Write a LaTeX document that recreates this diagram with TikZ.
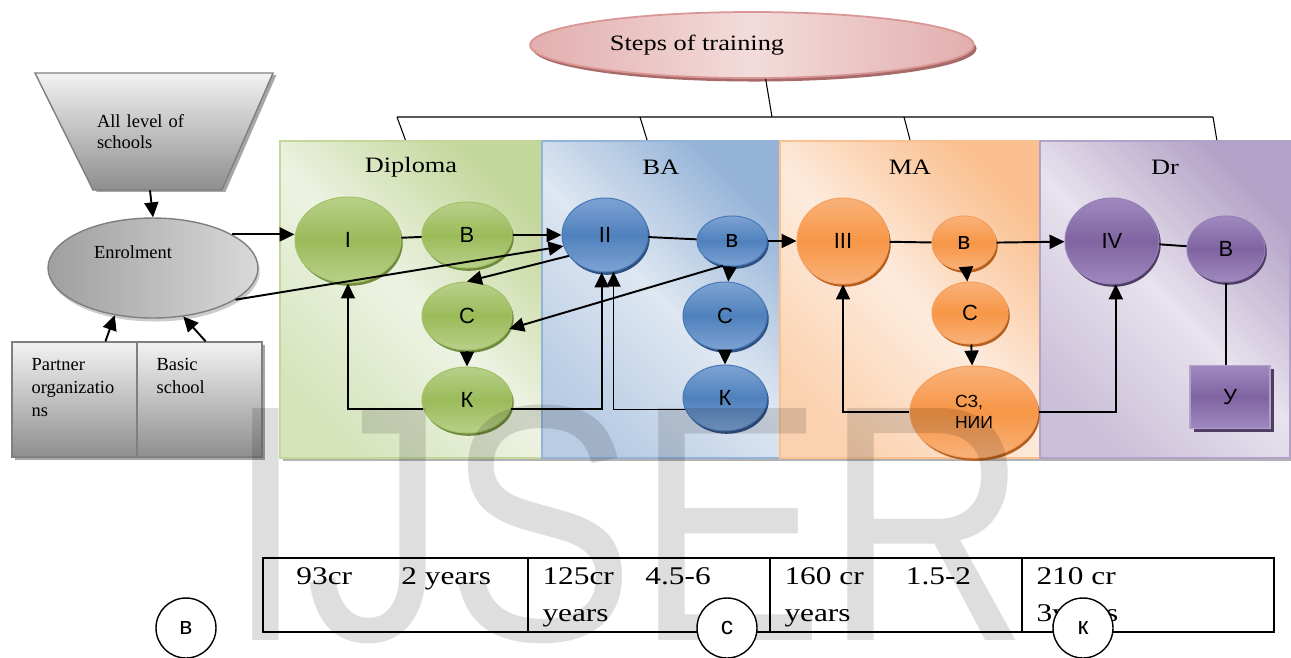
\documentclass[tikz,border=0pt]{standalone}
\usepackage{fontspec}
\usepackage{graphicx}
\setmainfont{Liberation Serif}
\setsansfont{Liberation Sans}
\newfontfamily\widefont[FakeStretch=1.2]{Liberation Serif}
\newfontfamily\tabfont[FakeStretch=1.23]{Liberation Serif}
\usetikzlibrary{arrows.meta,shapes.geometric,shadows}

\definecolor{grn}{HTML}{9BBB59}
\definecolor{grnL}{HTML}{B8D08A}
\definecolor{grnD}{HTML}{A3C16A}
\definecolor{grnS}{HTML}{6F8A3C}
\definecolor{blu}{HTML}{4F81BD}
\definecolor{bluL}{HTML}{7EA3D3}
\definecolor{bluD}{HTML}{4A7BB8}
\definecolor{bluS}{HTML}{2F5080}
\definecolor{org}{HTML}{F79646}
\definecolor{orgL}{HTML}{F9B27A}
\definecolor{orgD}{HTML}{F5A060}
\definecolor{orgS}{HTML}{B55F1E}
\definecolor{pur}{HTML}{8064A2}
\definecolor{purL}{HTML}{A089BF}
\definecolor{purD}{HTML}{9480B3}
\definecolor{purS}{HTML}{4F3D66}
\definecolor{dipT}{HTML}{C4D79B}
\definecolor{dipM}{HTML}{EDF3E3}
\definecolor{dipB}{HTML}{D6E4BC}
\definecolor{baT}{HTML}{95B3D7}
\definecolor{baM}{HTML}{DEE7F2}
\definecolor{baB}{HTML}{B8CCE4}
\definecolor{maT}{HTML}{FAC090}
\definecolor{maM}{HTML}{FDEBDD}
\definecolor{maB}{HTML}{FBD2B0}
\definecolor{drT}{HTML}{B3A2C7}
\definecolor{drM}{HTML}{E7E2ED}
\definecolor{drB}{HTML}{CBC0D9}
\definecolor{pinkL}{HTML}{F2DCDB}
\definecolor{pinkM}{HTML}{E2AEAD}
\definecolor{pinkD}{HTML}{D99694}
\definecolor{pinkS}{HTML}{A66A69}
\definecolor{grayT}{HTML}{F2F2F2}
\definecolor{grayB}{HTML}{8E8E8E}
\definecolor{grayD}{HTML}{7F7F7F}

\begin{document}
\begin{tikzpicture}[x=0.02cm, y=-0.02cm, >={Triangle[length=8.5pt,width=8pt]},
    main node/.style={ellipse, line width=0.6pt, font=\sffamily\fontsize{12.5}{14}\selectfont},
    green node/.style={main node, draw=grnD, top color=grnL, bottom color=grnL, middle color=grn,
      drop shadow={shadow xshift=1pt, shadow yshift=-1.6pt, fill=grnS, opacity=1}},
    blue node/.style={main node, draw=bluD, top color=bluL, bottom color=bluL, middle color=blu,
      drop shadow={shadow xshift=1pt, shadow yshift=-1.6pt, fill=bluS, opacity=1}},
    orange node/.style={main node, draw=orgD, top color=orgL, bottom color=orgL, middle color=org,
      drop shadow={shadow xshift=1pt, shadow yshift=-1.6pt, fill=orgS, opacity=1}},
    purple node/.style={main node, draw=purD, top color=purL, bottom color=purL, middle color=pur,
      drop shadow={shadow xshift=1pt, shadow yshift=-1.6pt, fill=purS, opacity=1}},
    small/.style={font=\sffamily\fontsize{14}{14}\selectfont},
    panel/.style={rectangle, minimum height=6.34cm, line width=1.2pt,
      drop shadow={shadow xshift=1.6pt, shadow yshift=-1.6pt, fill=black, opacity=0.3}},
    title/.style={anchor=center, yshift=-0.54cm, font=\widefont\fontsize{12.5}{15}\selectfont},
    gray box/.style={rectangle, draw=grayD, line width=0.8pt, minimum width=2.5cm, minimum height=2.3cm,
      top color=grayT, bottom color=grayB,
      drop shadow={shadow xshift=1.5pt, shadow yshift=-1.5pt, fill=gray!70, opacity=1}},
    box text/.style={anchor=north west, xshift=0.4cm, yshift=-0.34cm, align=left,
      font=\fontsize{10.5}{13}\selectfont},
    cell/.style={rectangle, draw, line width=1pt, minimum height=1.48cm},
    cell text/.style={anchor=north west, yshift=-0.2cm, align=left, font=\tabfont\fontsize{14.5}{21}\selectfont},
    ring/.style={circle, draw, fill=white, line width=0.8pt, minimum size=1.2cm, small},
    link/.style={line width=1.1pt}]
  \tikzstyle{every node}=[inner sep=0pt]

  \fill[white] (0,0) rectangle (1291,657);
  \useasboundingbox (0,0) rectangle (1291,657);

  % stages
  \node[panel, draw=dipT, top color=dipT, bottom color=dipB, middle color=dipM, shading angle=-45,
    minimum width=5.24cm, label={[title]north:Diploma}] (dip) at (411,299.5) {};
  \node[panel, draw=baT, top color=baT, bottom color=baB, middle color=baM, shading angle=-45,
    minimum width=4.76cm, label={[title]north:BA}] (ba) at (661,299.5) {};
  \node[panel, draw=maT, top color=maT, bottom color=maB, middle color=maM, shading angle=-45,
    minimum width=5.2cm, label={[title]north:MA}] (ma) at (910,299.5) {};
  \node[panel, draw=drT, top color=drT, bottom color=drB, middle color=drM, shading angle=-45,
    minimum width=5cm, label={[title]north:Dr}] (dr) at (1165,299.5) {};

  \node[main node, minimum width=8.88cm, minimum height=1.32cm, draw=pinkD, line width=1pt,
    left color=pinkM, right color=pinkM, middle color=pinkL,
    drop shadow={shadow xshift=1.5pt, shadow yshift=-2pt, fill=pinkS, opacity=1},
    label={[xshift=-1.1cm, font=\widefont\fontsize{12.5}{15}\selectfont]center:Steps of training}] (steps) at (752,45) {};

  \coordinate (t0) at (772,117);
  \coordinate (t1) at (397,117);
  \coordinate (t2) at (640,117);
  \coordinate (t3) at (904,117);
  \coordinate (t4) at (1213,117);
  \draw[line width=0.6pt] (steps.-68) -- (t0) (t1) -- (t4)
    (t1) -- (dip.92) (t2) -- (ba.95) (t3) -- (ma.north) (t4) -- (dr.72);

  % entry
  \draw[draw=grayD, line width=0.8pt, top color=grayT, bottom color=grayB,
    drop shadow={shadow xshift=2pt, shadow yshift=-1pt, fill=gray!70, opacity=1}]
    (35,73) -- (273,73) -- (222,190) -- (93,190) -- cycle;
  \node[text width=2.12cm, minimum height=2.34cm, align=left, font=\fontsize{10.5}{11.5}\selectfont] (fun) at (150,131.5) {All level of\\schools};
  \node[main node, minimum width=4.2cm, minimum height=2cm, draw=grayD, line width=0.8pt,
    left color=gray!75, right color=gray!30,
    drop shadow={shadow xshift=1pt, shadow yshift=-2pt, fill=gray!40, opacity=1},
    label={[xshift=-0.4cm, yshift=0.32cm, font=\fontsize{10.5}{12}\selectfont]center:Enrolment}] (enr) at (153,268) {};
  \node[gray box, label={[box text]north west:Partner\\organizatio\\ns}] (part) at (74.5,399.5) {};
  \node[gray box, label={[box text]north west:Basic\\school}] (basic) at (199.5,399.5) {};

  % Diploma
  \node[green node, minimum width=2.12cm, minimum height=1.72cm] (I) at (348,240) {I};
  \node[green node, minimum width=1.8cm, minimum height=1.32cm] (B1) at (467,235) {В};
  \node[green node, minimum width=1.8cm, minimum height=1.36cm] (C1) at (467,316) {С};
  \node[green node, minimum width=1.8cm, minimum height=1.32cm] (K1) at (467,400) {К};
  % BA
  \node[blue node, minimum width=1.72cm, minimum height=1.48cm] (II) at (605,235) {II};
  \node[blue node, small, minimum width=1.4cm, minimum height=1cm] (B2) at (732,241) {в};
  \node[blue node, minimum width=1.68cm, minimum height=1.36cm] (C2) at (725,316) {С};
  \node[blue node, minimum width=1.68cm, minimum height=1.32cm] (K2) at (725,398) {К};
  % MA
  \node[orange node, minimum width=1.84cm, minimum height=1.72cm] (III) at (843,241) {III};
  \node[orange node, small, minimum width=1.28cm, minimum height=1.08cm] (B3) at (964,243) {в};
  \node[orange node, minimum width=1.52cm, minimum height=1.24cm] (C3) at (970,313) {С};
  \node[orange node, align=left, font=\sffamily\fontsize{10}{12}\selectfont,
    minimum width=2.56cm, minimum height=1.84cm] (SZ) at (974,412) {СЗ,\\НИИ};
  % Dr
  \node[purple node, minimum width=1.88cm, minimum height=1.72cm] (IV) at (1112,241) {IV};
  \node[purple node, minimum width=1.56cm, minimum height=1.32cm] (B4) at (1226,249) {В};
  \node[rectangle, line width=0.8pt, draw=drT, top color=purL, bottom color=purL, middle color=pur,
    font=\sffamily\fontsize{12.5}{14}\selectfont, minimum width=1.6cm, minimum height=1.26cm,
    drop shadow={shadow xshift=2pt, shadow yshift=-2pt, fill=purS, opacity=1}] (Y) at (1230,397) {У};

  \draw[->, link] (fun.south) -- (enr.north);
  \draw[->, link] (part.62) -- (enr.231);
  \draw[->, link] (basic.84) -- (enr.302);
  \draw[->, link] (enr.23) -- (enr.23 -| I.west);
  \draw[->, link] (enr.-21) -- (II.195);

  \path[link] (I) edge (B1) (II) edge (B2) (III) edge (B3) (IV) edge (B4);
  \path[->, link] (B1) edge (II) (B2) edge (III) (B3) edge (IV)
    (C1) edge (K1) (B2) edge (C2) (C2) edge (K2) (B3) edge (C3) (C3) edge (SZ)
    (II.210) edge (C1.north) (B2.250) edge (C1.-17);
  \draw[->, link] (K1.191) -| (I.south);
  \draw[->, link] (K1.-11) -| (II.265);
  \draw[->, link] (K2.196) -| (II.283);
  \draw[->, link] (SZ.west) -| (III.south);
  \draw[->, link] (SZ.east) -| (IV.275);
  \draw[link] (B4.south) -- (B4.south |- Y.north);

  \node[anchor=base west, text=black, text opacity=0.13, font=\sffamily\fontsize{192}{192}\selectfont] (wm) at (226,640) {\scalebox{0.84}[1]{IJSER}};

  % credits and years
  \node[cell, minimum width=5.3cm, label={[cell text, xshift=0.68cm]north west:93cr\hspace{28pt}2 years}] (c1) at (395.5,595) {};
  \node[cell, minimum width=4.84cm, label={[cell text, xshift=0.3cm]north west:125cr\hspace{18pt}4.5-6\\years}] (c2) at (649,595) {};
  \node[cell, minimum width=5.04cm, label={[cell text, xshift=0.3cm]north west:160 cr\hspace{24pt}1.5-2\\years}] (c3) at (896,595) {};
  \node[cell, minimum width=5.04cm, label={[cell text, xshift=0.3cm]north west:210 cr\\3years}] (c4) at (1148,595) {};

  \node[ring] (rB) at (186,628) {в};
  \node[ring] (rC) at (727,628) {с};
  \node[ring] (rK) at (1083,628) {к};
\end{tikzpicture}
\end{document}
